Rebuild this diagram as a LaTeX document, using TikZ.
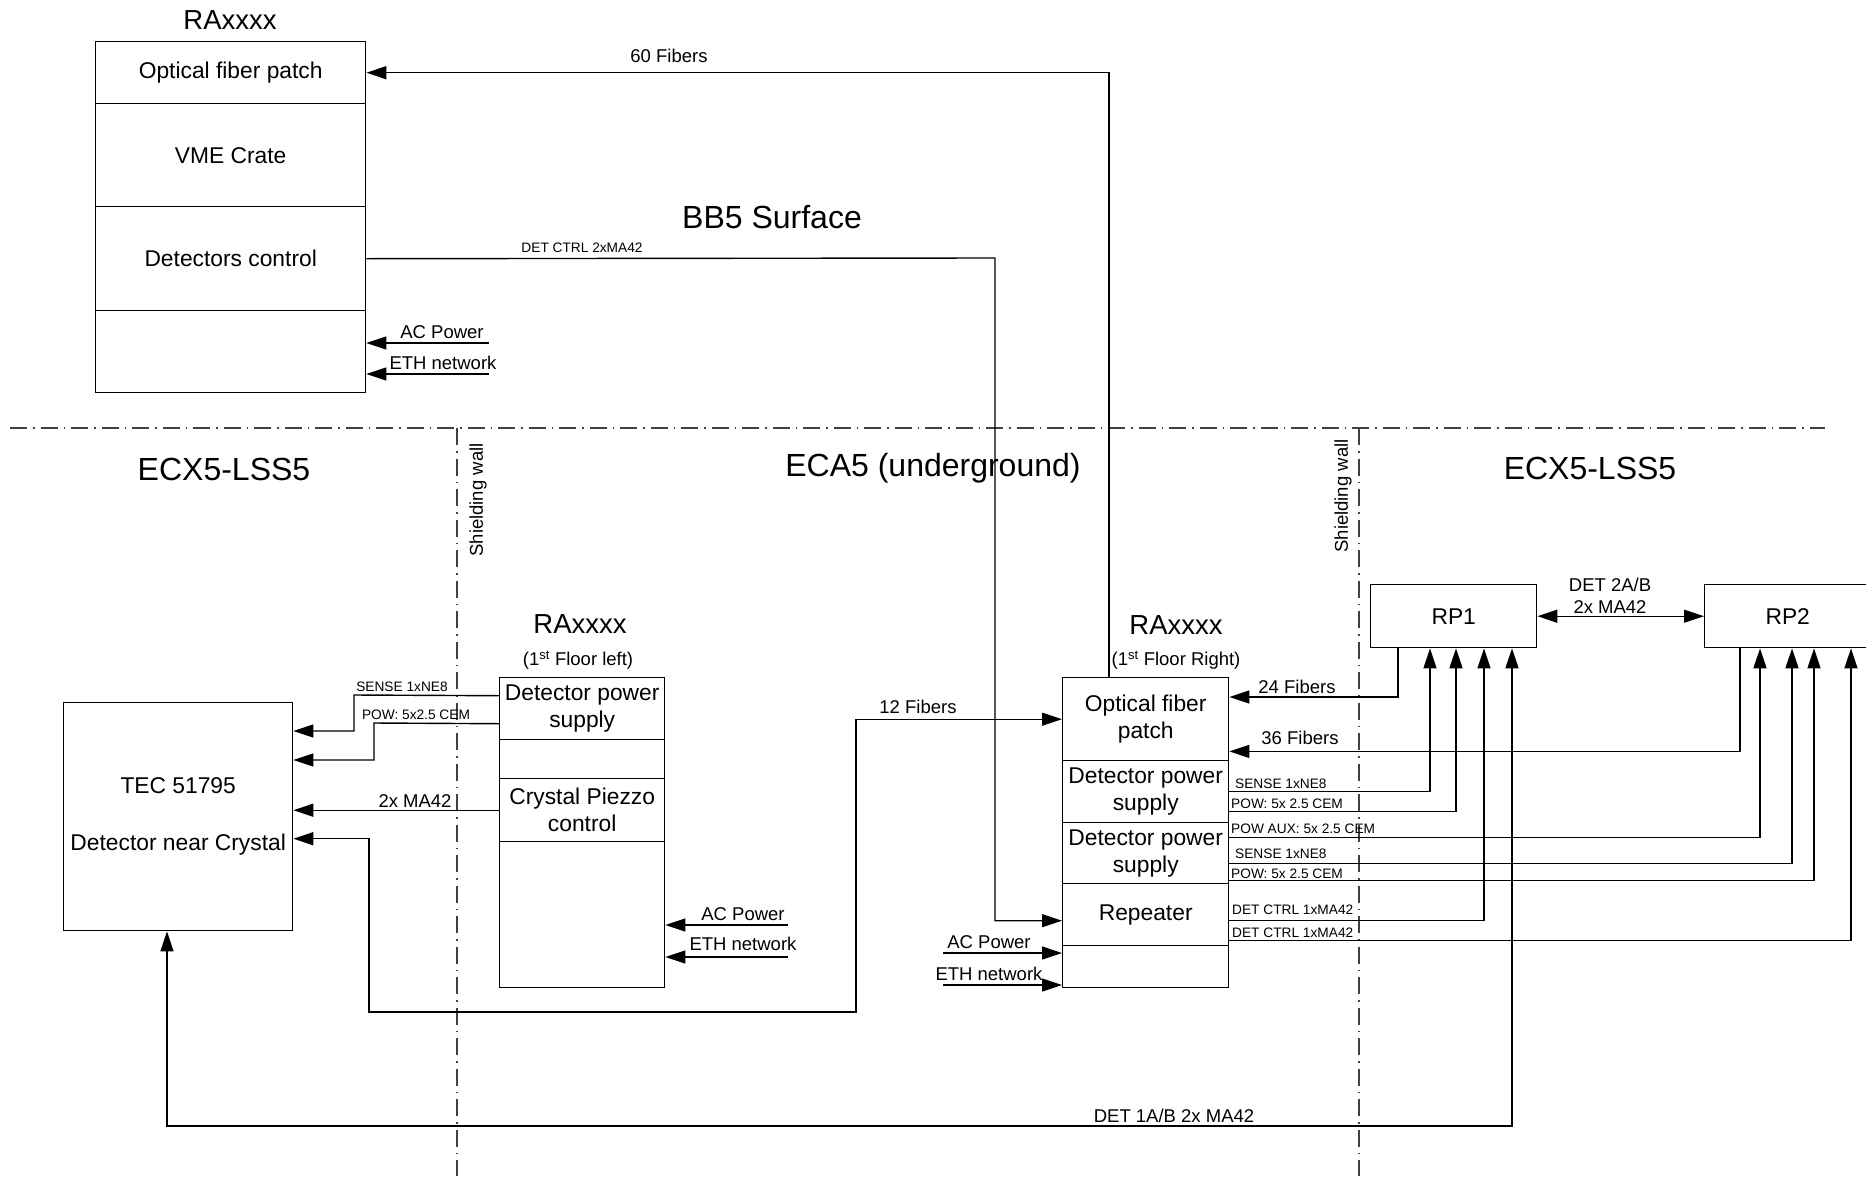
\documentclass[tikz,border=0pt]{standalone}
\usepackage{fontspec}
\setmainfont{Liberation Sans}
\usetikzlibrary{arrows.meta,calc}
\tikzset{
  cell/.style={draw, line width=1.4pt, inner sep=0pt, anchor=north west, align=center, font=\fontsize{22.8}{27}\selectfont},
  lab/.style={inner sep=0pt, font=\fontsize{18.5}{22}\selectfont},
  small/.style={inner sep=0pt, font=\fontsize{13.7}{16}\selectfont},
  ttl/.style={inner sep=0pt, font=\fontsize{27.5}{32}\selectfont},
  zone/.style={inner sep=0pt, font=\fontsize{32}{38}\selectfont},
  wire/.style={line width=1.4pt},
  arr/.style={wire, -{Triangle[length=20pt,width=13pt]}},
  darr/.style={wire, {Triangle[length=20pt,width=13pt]}-{Triangle[length=20pt,width=13pt]}},
  zline/.style={line width=1.2pt, black!75, dash pattern=on 17pt off 6pt on 1.5pt off 6pt},
}
\begin{document}
\begin{tikzpicture}[x=1pt,y=-1pt]
\useasboundingbox (0,0) rectangle (1866,1176);
\clip (0,0) rectangle (1866,1176);

% zone boundaries
\draw[zline] (10,428) -- (1825,428);
\draw[zline] (457,428) -- (457,1176);
\draw[zline] (1359,428) -- (1359,1176);

% zone titles
\node[zone] (z0) at (772,217) {BB5 Surface};
\node[zone] (z1) at (224,469) {ECX5-LSS5};
\node[zone] (z2) at (933,468) {ECA5 (underground)};
\node[zone] (z3) at (1590,468) {ECX5-LSS5};
\node[lab, rotate=90] (sw1) at (478,500) {Shielding wall};
\node[lab, rotate=90] (sw2) at (1343,496) {Shielding wall};

% top rack
\node[ttl] (t1) at (230,20) {RAxxxx};
\node[cell, minimum width=270pt, minimum height=62pt] (ofp) at (95,41) {Optical fiber patch};
\node[cell, minimum width=270pt, minimum height=103pt] (vme) at (95,103) {VME Crate};
\node[cell, minimum width=270pt, minimum height=104pt] (detc) at (95,206) {Detectors control};
\node[cell, minimum width=270pt, minimum height=82pt] (bpow) at (95,310) {};

% left rack
\node[ttl] (t2) at (580,624) {RAxxxx};
\node[lab] (t2s) at (578,660) {(1\textsuperscript{st} Floor left)};
\node[cell, minimum width=165pt, minimum height=62pt] (ldps) at (499,677) {Detector power\\supply};
\node[cell, minimum width=165pt, minimum height=39pt] (lgap) at (499,739) {};
\node[cell, minimum width=165pt, minimum height=63pt] (lpiezo) at (499,778) {Crystal Piezzo\\control};
\node[cell, minimum width=165pt, minimum height=146pt] (lbot) at (499,841) {};

% right rack
\node[ttl] (t3) at (1176,625) {RAxxxx};
\node[lab] (t3s) at (1176,660) {(1\textsuperscript{st} Floor Right)};
\node[cell, minimum width=166pt, minimum height=83pt] (rofp) at (1062,677) {Optical fiber\\patch};
\node[cell, minimum width=166pt, minimum height=62pt] (rdps1) at (1062,760) {Detector power\\supply};
\node[cell, minimum width=166pt, minimum height=61pt] (rdps2) at (1062,822) {Detector power\\supply};
\node[cell, minimum width=166pt, minimum height=62pt] (rep) at (1062,883) {Repeater};
\node[cell, minimum width=166pt, minimum height=42pt] (rbot) at (1062,945) {};

% TEC
\node[cell, minimum width=229pt, minimum height=228pt] (tec) at (63,702) {TEC 51795\\[30pt]Detector near Crystal};

% RPs
\node[cell, minimum width=166pt, minimum height=63pt] (rp1) at (1370,584) {RP1};
\node[cell, minimum width=166pt, minimum height=63pt] (rp2) at (1704,584) {RP2};

% 60 fibers
\draw[arr] ([xshift=47pt]rofp.north west) |- (ofp.east);
\node[lab] (l60) at (669,56) {60 Fibers};

% DET CTRL 2xMA42
\coordinate (k1) at (995,258);
\draw[arr] (detc.east) -- (k1) |- ([yshift=-6pt]rep.west);
\node[small] (ldc) at (582,248) {DET CTRL 2xMA42};

% power / network inputs
\coordinate (ac1) at (489,343);
\coordinate (eth1) at (489,374);
\draw[arr] (ac1) -- (ac1 -| bpow.east);
\draw[arr] (eth1) -- (eth1 -| bpow.east);
\node[lab] (lac1) at (442,332) {AC Power};
\node[lab] (leth1) at (443,363) {ETH network};

\coordinate (ac2) at (788,925);
\coordinate (eth2) at (788,957);
\draw[arr] (ac2) -- (ac2 -| lbot.east);
\draw[arr] (eth2) -- (eth2 -| lbot.east);
\node[lab] (lac2) at (743,914) {AC Power};
\node[lab] (leth2) at (743,944) {ETH network};

\coordinate (ac3) at (943,953);
\coordinate (eth3) at (943,985);
\draw[arr] (ac3) -- (ac3 -| rbot.west);
\draw[arr] (eth3) -- (eth3 -| rbot.west);
\node[lab] (lac3) at (989,942) {AC Power};
\node[lab] (leth3) at (989,974) {ETH network};

% left rack to TEC
\coordinate (s1) at (354,695);
\coordinate (s2) at (354,731);
\draw[arr] ([yshift=13pt]ldps.west) -- (s1) -- (s2) -- (s2 -| tec.east);
\node[small] (lsl) at (402,687) {SENSE 1xNE8};
\coordinate (p1) at (374,723);
\coordinate (p2) at (374,760);
\draw[arr] ([yshift=-15pt]ldps.west) -- (p1) -- (p2) -- (p2 -| tec.east);
\node[small] (lpl) at (416,715) {POW: 5x2.5 CEM};
\draw[arr] (lpiezo.west) -- (lpiezo.west -| tec.east);
\node[lab] (lma) at (415,801) {2x MA42};

% 12 fibers
\coordinate (f1) at (369,1012);
\coordinate (f2) at (856,1012);
\draw[darr] ([yshift=-22pt]tec.east) -| (f1) -- (f2) |- (rofp.west);
\node[lab] (l12) at (918,707) {12 Fibers};

% DET 1A/B
\coordinate (g1) at (167,1126);
\coordinate (g2) at (1512,1126);
\draw[darr] (g1 |- tec.south) -- (g1) -- (g2) -- (g2 |- rp1.south);
\node[lab] (l1ab) at (1174,1116) {DET 1A/B 2x MA42};

% DET 2A/B
\draw[darr] (rp1.east) -- (rp2.west);
\node[lab, align=center] (l2ab) at (1610,596) {DET 2A/B\\2x MA42};

% fibers from RPs
\draw[arr] ([xshift=28pt]rp1.south west) |- ([yshift=-20pt]rofp.north east);
\node[lab] (l24) at (1297,687) {24 Fibers};
\draw[arr] ([xshift=36pt]rp2.south west) |- ([yshift=10pt]rofp.south east);
\node[lab] (l36) at (1300,738) {36 Fibers};

% right rack to RPs
\draw[arr] (rdps1.east) -| ([xshift=60pt]rp1.south west);
\draw[arr] ([yshift=-20pt]rdps1.east) -| ([xshift=86pt]rp1.south west);
\draw[arr] ([yshift=15.5pt]rdps2.east) -| ([xshift=56pt]rp2.south west);
\draw[arr] ([yshift=-10.5pt]rdps2.east) -| ([xshift=88pt]rp2.south west);
\draw[arr] ([yshift=-27.5pt]rdps2.east) -| ([xshift=110pt]rp2.south west);
\draw[arr] ([yshift=-6pt]rep.east) -| ([xshift=114pt]rp1.south west);
\draw[arr] ([yshift=-26pt]rep.east) -| ([xshift=147pt]rp2.south west);

\node[small, anchor=base west] (r1) at (1235,788) {SENSE 1xNE8};
\node[small, anchor=base west] (r2) at (1231,808) {POW: 5x 2.5 CEM};
\node[small, anchor=base west] (r3) at (1231,833) {POW AUX: 5x 2.5 CEM};
\node[small, anchor=base west] (r4) at (1235,858) {SENSE 1xNE8};
\node[small, anchor=base west] (r5) at (1231,878) {POW: 5x 2.5 CEM};
\node[small, anchor=base west] (r6) at (1232,914) {DET CTRL 1xMA42};
\node[small, anchor=base west] (r7) at (1232,937) {DET CTRL 1xMA42};
\end{tikzpicture}
\end{document}
